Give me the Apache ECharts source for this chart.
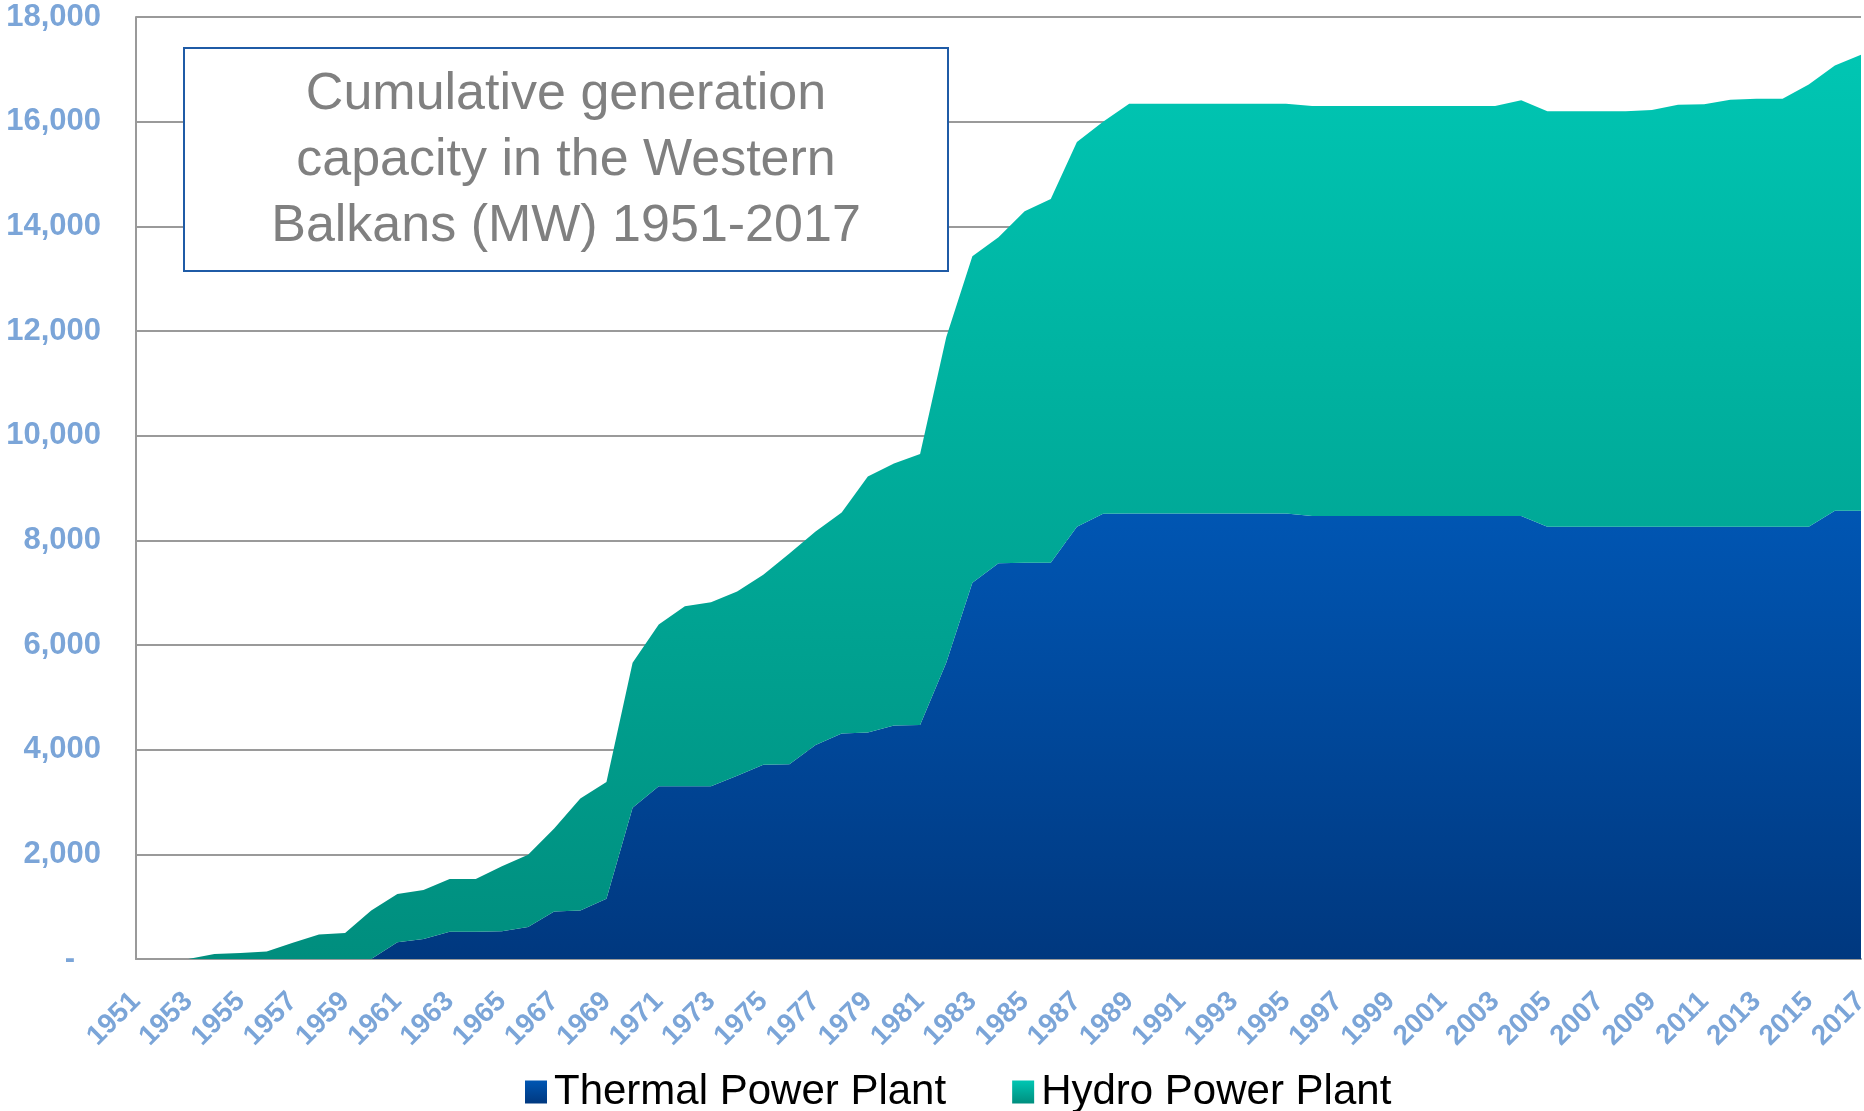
<!DOCTYPE html>
<html>
<head>
<meta charset="utf-8">
<script src="https://cdn.jsdelivr.net/npm/echarts@6/dist/echarts.min.js"></script>
<style>
html,body{margin:0;padding:0;background:#fff;}
#chart{width:1864px;height:1111px;}
</style>
</head>
<body>
<div id="chart"></div>
<script>
const years = [];
for (let y = 1951; y <= 2017; y++) years.push(String(y));

const thermal = [
  0, 0, 0, 0, 0, 0, 0, 0, 0, 0,
  320, 380, 520, 520, 530, 610, 910, 925, 1150, 2890,
  3300, 3300, 3300, 3500, 3710, 3720, 4090, 4310, 4330, 4460,
  4470, 5660, 7190, 7560, 7570, 7570, 8260, 8510, 8515, 8515,
  8515, 8515, 8515, 8515, 8515, 8465, 8465, 8465, 8465, 8465,
  8465, 8465, 8465, 8465, 8260, 8260, 8260, 8260, 8260, 8260,
  8260, 8260, 8260, 8260, 8260, 8565, 8565
];

const hydro = [
  0, 0, 0, 95, 115, 145, 310, 470, 495, 925,
  920, 940, 1010, 1010, 1240, 1380, 1585, 2140, 2230, 2770,
  3090, 3440, 3515, 3520, 3630, 4030, 4080, 4220, 4890, 5010,
  5180, 6220, 6240, 6230, 6720, 6950, 7350, 7490, 7825, 7825,
  7825, 7825, 7825, 7825, 7825, 7835, 7835, 7835, 7835, 7835,
  7835, 7835, 7835, 7945, 7940, 7940, 7940, 7940, 7965, 8065,
  8075, 8160, 8180, 8180, 8450, 8510, 8715
];

const seriesNames = ['Thermal Power Plant', 'Hydro Power Plant'];
const titleLines = ['Cumulative generation', 'capacity in the Western', 'Balkans (MW) 1951-2017'];

const FONT = '"Liberation Sans", Arial, sans-serif';
const LABEL_COLOR = '#7BA5D8';
const GRID_COLOR = '#9A9A9A';

function grad(top, bottom) {
  return new echarts.graphic.LinearGradient(0, 0, 0, 1, [
    { offset: 0, color: top },
    { offset: 1, color: bottom }
  ]);
}

const chart = echarts.init(document.getElementById('chart'), null, { renderer: 'canvas' });

chart.setOption({
  backgroundColor: '#ffffff',
  animation: false,
  grid: { left: 136, right: 3, top: 17, bottom: 152, containLabel: false, outerBoundsMode: 'none' },
  xAxis: {
    type: 'category',
    data: years,
    boundaryGap: false,
    axisLine: { show: true, lineStyle: { color: GRID_COLOR, width: 2 } },
    axisTick: { show: false },
    axisLabel: {
      interval: 1,
      rotate: 45,
      margin: 38,
      color: LABEL_COLOR,
      fontFamily: FONT,
      fontWeight: 'bold',
      fontSize: 28
    },
    splitLine: { show: false }
  },
  yAxis: {
    type: 'value',
    min: 0,
    max: 18000,
    interval: 2000,
    axisLine: { show: true, lineStyle: { color: GRID_COLOR, width: 2 } },
    axisTick: { show: false },
    splitLine: { show: true, lineStyle: { color: GRID_COLOR, width: 2 } },
    axisLabel: {
      margin: 35,
      color: LABEL_COLOR,
      fontFamily: FONT,
      fontWeight: 'bold',
      fontSize: 31,
      formatter: function (v) {
        return v === 0 ? '-   ' : v.toLocaleString('en-US');
      }
    }
  },
  legend: {
    data: seriesNames,
    left: 520,
    top: 1066,
    icon: 'rect',
    itemWidth: 22,
    itemHeight: 23,
    itemGap: 66,
    textStyle: {
      fontFamily: FONT,
      fontSize: 42,
      color: '#000000',
      padding: [0, 0, 0, 2]
    }
  },
  graphic: [
    {
      type: 'rect',
      z: 100,
      shape: { x: 184, y: 48, width: 764, height: 223 },
      style: { fill: '#ffffff', stroke: '#1F5BA6', lineWidth: 2 }
    },
    {
      type: 'text',
      z: 101,
      style: {
        x: 566,
        y: 161,
        text: titleLines.join('\n'),
        textAlign: 'center',
        textVerticalAlign: 'middle',
        fill: '#808080',
        font: '52px ' + FONT,
        lineHeight: 66
      }
    }
  ],
  series: [
    {
      name: seriesNames[0],
      type: 'line',
      stack: 'total',
      data: thermal,
      showSymbol: false,
      symbol: 'none',
      lineStyle: { width: 0 },
      itemStyle: { color: grad('#0056B3', '#00387F') },
      areaStyle: { color: grad('#0056B3', '#00387F'), opacity: 1 }
    },
    {
      name: seriesNames[1],
      type: 'line',
      stack: 'total',
      data: hydro,
      showSymbol: false,
      symbol: 'none',
      lineStyle: { width: 0 },
      itemStyle: { color: grad('#00C6B3', '#008E7E') },
      areaStyle: { color: grad('#00C6B3', '#008E7E'), opacity: 1 }
    }
  ]
});
</script>
</body>
</html>
